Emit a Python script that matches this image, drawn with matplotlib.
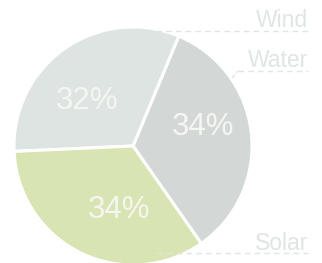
import numpy as np
import matplotlib.pyplot as plt

# slice data (counter-clockwise, starting at lower right)
sources = ['Water', 'Wind', 'Solar']
shares = [34, 32, 34]
colors = ['#d3d7d6', '#dde4e1', '#d8e4b1']

# right-hand labels, top to bottom
label_names = ['Wind', 'Water', 'Solar']

fig = plt.figure(figsize=(3.22, 2.63), dpi=100)
ax = fig.add_axes([0, 0, 1, 1])

cx, cy, r = 133, 117, 119
wedges, texts, autotexts = ax.pie(
    shares, colors=colors, startangle=-55, counterclock=True,
    center=(cx, cy), radius=r, frame=True,
    autopct='%d%%', pctdistance=0.57,
    wedgeprops=dict(edgecolor='white', linewidth=2.2),
    textprops=dict(color='#f4f6f2', fontsize=22.5, family=['Liberation Sans']))
ax.set_xlim(0, 322)
ax.set_ylim(0, 263)
ax.set_aspect('equal')
ax.axis('off')

# nudge percentage labels to where the original puts them
pct_pos = {'Water': (15, 0.61), 'Wind': (136, 0.54), 'Solar': (258, 0.55)}
for name, t in zip(sources, autotexts):
    ang, d = pct_pos[name]
    t.set_position((cx + d * r * np.cos(np.radians(ang)),
                    cy + d * r * np.sin(np.radians(ang))))

line_col = '#dfe5e3'
layout = {'Wind': (236, 232, 156), 'Water': (196, 192, 238), 'Solar': (13, 10, 157)}
for name in label_names:
    ty, ly, lx = layout[name]
    ax.text(308, ty, name, ha='right', va='baseline', fontsize=16.5,
            color=line_col, family=['Liberation Sans'])
    ax.plot([lx, 308], [ly, ly], color=line_col, lw=1, ls=(0, (4, 3)))
# small elbow from the Water slice edge
ax.plot([232, 238], [185, 192], color=line_col, lw=1, ls=(0, (3, 2)))

fig.savefig('out.png', dpi=100)
